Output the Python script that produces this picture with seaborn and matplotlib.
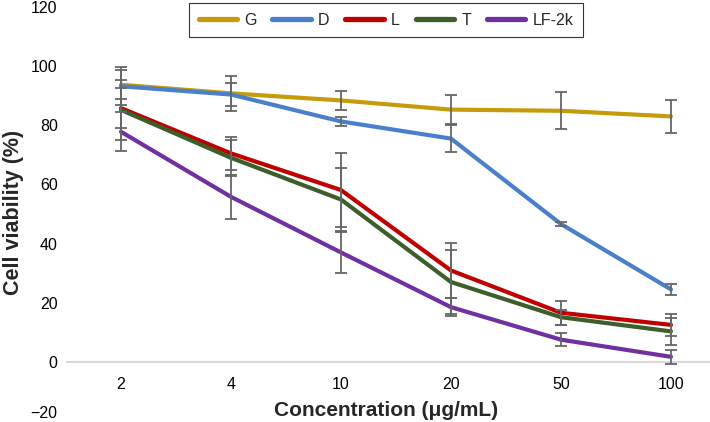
import numpy as np
import pandas as pd
import seaborn as sns
import matplotlib
import matplotlib.pyplot as plt
matplotlib.use("Agg")

conc = ["2", "4", "10", "20", "50", "100"]
groups = ["G", "D", "L", "T", "LF-2k"]

g_mean = [93.7, 90.8, 88.4, 85.3, 84.9, 83.0]
d_mean = [93.2, 90.4, 81.3, 75.5, 46.6, 24.5]
l_mean = [85.8, 70.5, 58.1, 30.9, 16.6, 12.5]
t_mean = [85.2, 69.0, 54.9, 27.0, 15.1, 10.3]
lf_mean = [77.8, 55.8, 37.0, 18.5, 7.5, 1.7]

g_err = [4.9, 5.8, 3.3, 5.0, 6.2, 5.5]
d_err = [6.5, 3.9, 1.5, 4.6, 0.6, 1.8]
l_err = [6.8, 5.5, 12.6, 9.4, 4.1, 3.7]
t_err = [10.2, 6.0, 10.5, 10.8, 2.5, 4.7]
lf_err = [6.6, 7.4, 7.0, 3.0, 2.2, 2.4]

colors = ["#C59B0A", "#4A7FCB", "#C00000", "#3B5E2B", "#7030A0"]

means = [g_mean, d_mean, l_mean, t_mean, lf_mean]
errs = [g_err, d_err, l_err, t_err, lf_err]

df = pd.DataFrame({
    "conc": conc * len(groups),
    "viability": sum(means, []),
    "err": sum(errs, []),
    "group": np.repeat(groups, len(conc)),
})

sns.set_theme(style="white")
plt.rcParams["font.family"] = ["Liberation Sans", "DejaVu Sans"]

W, H = 710, 422
fig = plt.figure(figsize=(W / 100, H / 100), dpi=100)
ax = fig.add_axes([66 / W, 1 / H, (W - 66) / W, 414 / H])

sns.lineplot(data=df, x="conc", y="viability", hue="group", hue_order=groups,
             palette=colors, sort=False, linewidth=3, ax=ax, zorder=2)

for grp in groups:
    sub = df[df["group"] == grp]
    ax.errorbar(sub["conc"], sub["viability"], yerr=sub["err"], fmt="none",
                ecolor="#666666", elinewidth=1.3, capsize=4, capthick=1.3,
                zorder=3)

ax.set_ylim(-20, 120)
ax.set_xlim(-0.5, 5.355)
ax.set_yticks([-20, 0, 20, 40, 60, 80, 100, 120])
ax.axhline(0, color="#D9D9D9", lw=1.5, zorder=1)

for s in ax.spines.values():
    s.set_visible(False)
ax.spines["bottom"].set_position(("data", 0))
ax.tick_params(axis="x", length=0, pad=11, labelsize=11.5, colors="black")
ax.tick_params(axis="y", length=0, pad=6, labelsize=11.5, colors="black")
# keep the -20 label inside the figure
ax.get_yticklabels()[0].set_va("bottom")

ax.set_xlabel("")
ax.set_ylabel("")
fig.text(386 / W, 1 - 410 / H, "Concentration (\u03bcg/mL)", ha="center",
         va="center", fontsize=15, fontweight="bold")
fig.text(14 / W, 1 - 212 / H, "Cell viability (%)", ha="center",
         va="center", rotation=90, fontsize=15.5, fontweight="bold")

handles, labels = ax.get_legend_handles_labels()
ax.legend_.remove()
for h in handles:
    h.set_linewidth(3.8)
leg = fig.legend(handles, labels, loc="upper center", ncol=5,
                 bbox_to_anchor=(386 / W, 1 - 3 / H), fontsize=11.5,
                 frameon=True, fancybox=False, edgecolor="black",
                 handlelength=2.4, handletextpad=0.45, columnspacing=1.0,
                 borderpad=0.6, borderaxespad=0)
leg.get_frame().set_linewidth(0.8)

fig.savefig("out.png", dpi=100)
